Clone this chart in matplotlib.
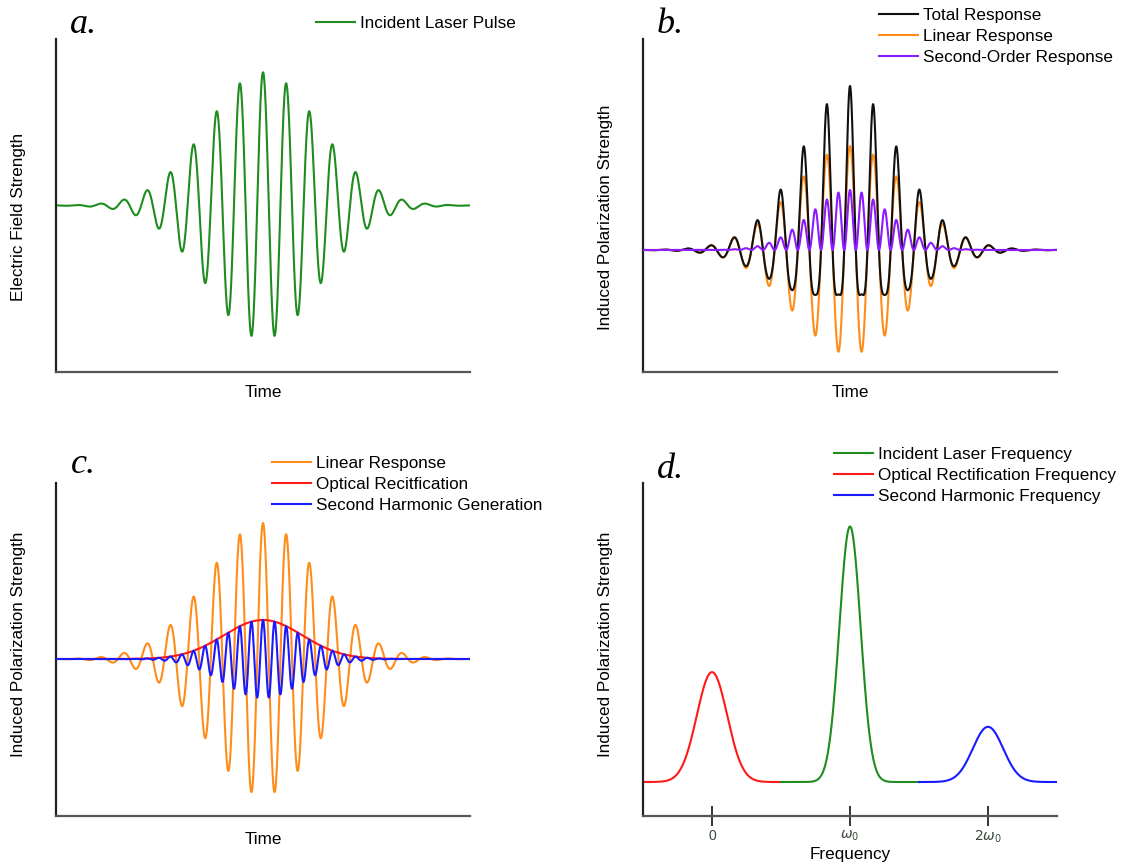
import numpy as np
import matplotlib
matplotlib.use("Agg")
import matplotlib.pyplot as plt
from matplotlib.lines import Line2D

plt.rcParams['font.family'] = ['Liberation Sans', 'DejaVu Sans']
plt.rcParams['mathtext.fontset'] = 'dejavusans'

# ---------------- data ----------------
# shared pulse description, time measured in optical periods
time_range_periods = [-8.92, 8.92]
envelope_sigma_periods = 2.4
# panel a
field_amplitude = 1.0
# panel b
linear_amp_b = 1.04
second_order_amp_b = 0.60
# panel c
linear_amp_c = 1.36
rectification_amp_c = 0.39
shg_amp_c = 0.39
# panel d
freq_tick_labels = ['0', r'$\omega_0$', r'$2\omega_0$']
peak_centers = [0.0, 1.0, 2.0]
peak_heights = [0.43, 1.0, 0.216]
peak_sigmas = [0.11, 0.077, 0.11]
segment_edges = [-0.5, 0.5, 1.5, 2.5]

legend_a = ['Incident Laser Pulse']
legend_b = ['Total Response', 'Linear Response', 'Second-Order Response']
legend_c = ['Linear Response', 'Optical Recitfication', 'Second Harmonic Generation']
legend_d = ['Incident Laser Frequency', 'Optical Rectification Frequency',
            'Second Harmonic Frequency']

# ---------------- styles ----------------
GREEN = '#1e8c1e'
ORANGE = '#ff8c1a'
PURPLE = '#8c1aff'
BLACK = '#111111'
RED = '#ff1a1a'
BLUE = '#1a1aff'
LW = 1.5
FS = 12.3

W, H = 1122, 864
fig = plt.figure(figsize=(W / 100, H / 100), dpi=100)


def make_axes(x0, y0, x1, y1):
    ax = fig.add_axes([x0 / W, 1 - y1 / H, (x1 - x0) / W, (y1 - y0) / H])
    for s in ('top', 'right'):
        ax.spines[s].set_visible(False)
    ax.spines['left'].set_color('#222222')
    ax.spines['bottom'].set_color('#555555')
    ax.spines['left'].set_linewidth(1.6)
    ax.spines['bottom'].set_linewidth(1.6)
    ax.set_xticks([])
    ax.set_yticks([])
    return ax


def add_legend(ax, handles, labels, px, py):
    ax.legend(handles, labels, loc='upper left',
              bbox_to_anchor=(px / W, 1 - py / H), bbox_transform=fig.transFigure,
              frameon=False, borderpad=0, borderaxespad=0, fontsize=FS,
              handlelength=2.3, handletextpad=0.3, labelspacing=0.36)


def letter(txt, px, py):
    fig.text(px / W, 1 - py / H, txt, family='Liberation Serif', style='italic',
             fontsize=26, ha='left', va='baseline')


t = np.linspace(time_range_periods[0], time_range_periods[1], 6000)
env = np.exp(-t ** 2 / (2 * envelope_sigma_periods ** 2))
carrier = np.cos(2 * np.pi * t)
field = env * carrier

# ---------------- panel a ----------------
axa = make_axes(56, 39, 470, 372)
axa.plot(t, field_amplitude * field, color=GREEN, lw=LW)
axa.set_xlim(time_range_periods)
axa.set_ylim(-1.25, 1.25)
axa.set_xlabel('Time', fontsize=FS)
axa.set_ylabel('Electric Field Strength', fontsize=FS)
axa.xaxis.set_label_coords(0.5, -0.039)
axa.yaxis.set_label_coords(-0.072, 0.465)
add_legend(axa, [Line2D([], [], color=GREEN, lw=LW)], legend_a, 316, 16)
letter('a.', 70, 33)

# ---------------- panel b ----------------
axb = make_axes(643, 39, 1057, 372)
lin_b = linear_amp_b * field
sec_b = second_order_amp_b * field ** 2
tot_b = lin_b + sec_b
lo, = axb.plot(t, lin_b, color=ORANGE, lw=LW, zorder=2)
lk, = axb.plot(t, tot_b, color=BLACK, lw=LW, zorder=3)
lp, = axb.plot(t, sec_b, color=PURPLE, lw=LW, zorder=4)
axb.set_xlim(time_range_periods)
axb.set_ylim(-1.22, 2.11)
axb.set_xlabel('Time', fontsize=FS)
axb.set_ylabel('Induced Polarization Strength', fontsize=FS)
axb.xaxis.set_label_coords(0.5, -0.039)
axb.yaxis.set_label_coords(-0.072, 0.465)
add_legend(axb, [lk, lo, lp], legend_b, 879, 8)
letter('b.', 657, 33)

# ---------------- panel c ----------------
axc = make_axes(56, 483, 470, 816)
env2 = env ** 2
lo, = axc.plot(t, linear_amp_c * field, color=ORANGE, lw=LW, zorder=2)
lr, = axc.plot(t, rectification_amp_c * env2, color=RED, lw=LW, zorder=3)
lb, = axc.plot(t, shg_amp_c * env2 * np.cos(4 * np.pi * t), color=BLUE, lw=LW, zorder=4)
axc.set_xlim(time_range_periods)
axc.set_ylim(-1.57, 1.76)
axc.set_xlabel('Time', fontsize=FS)
axc.set_ylabel('Induced Polarization Strength', fontsize=FS)
axc.xaxis.set_label_coords(0.5, -0.048)
axc.yaxis.set_label_coords(-0.072, 0.516)
add_legend(axc, [lo, lr, lb], legend_c, 272, 456)
letter('c.', 71, 473)

# ---------------- panel d ----------------
axd = make_axes(643, 483, 1057, 816)
colors_d = [RED, GREEN, BLUE]
lines_d = []
for i in range(3):
    w = np.linspace(segment_edges[i], segment_edges[i + 1], 1500)
    y = peak_heights[i] * np.exp(-(w - peak_centers[i]) ** 2 / (2 * peak_sigmas[i] ** 2))
    ln, = axd.plot(w, y, color=colors_d[i], lw=LW)
    lines_d.append(ln)
axd.set_xlim(segment_edges[0], segment_edges[-1])
axd.set_ylim(-0.133, 1.17)
axd.set_xticks(peak_centers)
axd.set_xticklabels(freq_tick_labels)
axd.tick_params(axis='x', direction='inout', length=14, width=1.4, color='#333333',
                labelsize=10, labelcolor='#3b4a3b', pad=2)
for lab in axd.get_xticklabels()[1:]:
    lab.set_style('italic')
axd.set_xlabel('Frequency', fontsize=FS)
axd.set_ylabel('Induced Polarization Strength', fontsize=FS)
axd.xaxis.set_label_coords(0.5, -0.093)
axd.yaxis.set_label_coords(-0.072, 0.516)
add_legend(axd, [lines_d[1], lines_d[0], lines_d[2]], legend_d, 834, 447)
letter('d.', 657, 478)

fig.savefig('out.png', dpi=100)
